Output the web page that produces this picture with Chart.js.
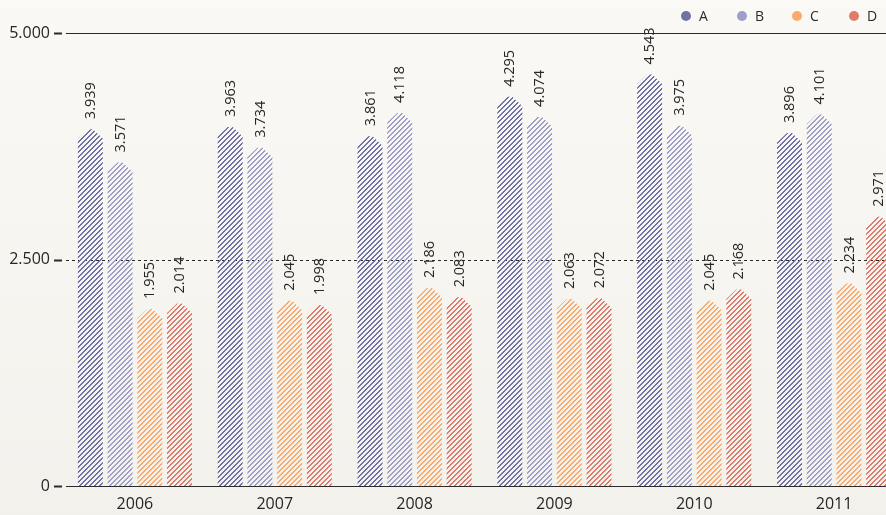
<!DOCTYPE html>
<html>
<head>
<meta charset="utf-8">
<script src="https://cdn.jsdelivr.net/npm/chart.js@4.4.1/dist/chart.umd.min.js"></script>
<style>
  html, body { margin: 0; padding: 0; width: 886px; height: 515px; overflow: hidden; }
  body { background: linear-gradient(#faf9f5, #f2f1ec); font-family: "Open Sans", sans-serif; color: #2b2b2b; }
  #wrap { position: relative; width: 904px; height: 515px; }
  #legend { position: absolute; top: 0; left: 0; width: 886px; height: 32px; }
  .item { position: absolute; top: 6px; font-size: 14px; line-height: 20px; }
  .dot { position: absolute; width: 10px; height: 10px; border-radius: 50%; }
</style>
</head>
<body>
<div id="wrap">
  <canvas id="chart" width="904" height="515"></canvas>
  <div id="legend"></div>
</div>
<script>
const categories = ['2006', '2007', '2008', '2009', '2010', '2011'];
const seriesNames = ['A', 'B', 'C', 'D'];
const seriesA = [3939, 3963, 3861, 4295, 4543, 3896];
const seriesB = [3571, 3734, 4118, 4074, 3975, 4101];
const seriesC = [1955, 2045, 2186, 2063, 2045, 2234];
const seriesD = [2014, 1998, 2083, 2072, 2168, 2971];
const yTicks = [0, 2500, 5000];

const hatchColors = ['#6f71a9', '#9d9fca', '#fca86a', '#e2786a'];
const dotColors = ['#7072a6', '#9d9ec9', '#fca96c', '#e07c6c'];
const legendPos = [686, 742, 797, 854];

function fmt(v) {
  return String(v).replace(/\B(?=(\d{3})+(?!\d))/g, '.');
}

// crisp "/" stripe tile, 5px period
function hatchPattern(ctx, color) {
  const n = 5;
  const tile = document.createElement('canvas');
  tile.width = n; tile.height = n;
  const t = tile.getContext('2d');
  t.fillStyle = color;
  for (let r = 0; r < n; r++) {
    const c = (n - 1 - r + n) % n;
    t.fillRect(c, r, 1, 1);
    t.fillRect((c + 1) % n, r, 1, 1);
  }
  return ctx.createPattern(tile, 'repeat');
}

// legend
const legend = document.getElementById('legend');
seriesNames.forEach((n, i) => {
  const d = document.createElement('div');
  d.className = 'dot';
  d.style.left = (legendPos[i] - 5) + 'px';
  d.style.top = '11px';
  d.style.background = dotColors[i];
  legend.appendChild(d);
  const t = document.createElement('div');
  t.className = 'item';
  t.style.left = (legendPos[i] + 13) + 'px';
  t.textContent = n;
  legend.appendChild(t);
});

// grid lines, tick marks, hatched pointed bars and rotated value labels
const hatchedBars = {
  id: 'hatchedBars',
  beforeDatasetsDraw(chart) {
    const { ctx, chartArea, scales: { y } } = chart;
    ctx.save();
    yTicks.forEach(v => {
      const py = Math.round(y.getPixelForValue(v)) + 0.5;
      ctx.beginPath();
      ctx.strokeStyle = '#2a2a2a';
      ctx.lineWidth = 1;
      ctx.setLineDash(v === 2500 ? [3, 3] : []);
      ctx.moveTo(chartArea.left + 1, py);
      ctx.lineTo(chartArea.right, py);
      ctx.stroke();
      ctx.setLineDash([]);
      ctx.beginPath();
      ctx.lineWidth = 2;
      ctx.moveTo(54, py);
      ctx.lineTo(62, py);
      ctx.stroke();
    });
    ctx.restore();
  },
  afterDatasetsDraw(chart) {
    const { ctx } = chart;
    chart.data.datasets.forEach((ds, di) => {
      const meta = chart.getDatasetMeta(di);
      const pat = hatchPattern(ctx, hatchColors[di]);
      meta.data.forEach((bar, i) => {
        const { x, y, base, width } = bar.getProps(['x', 'y', 'base', 'width'], true);
        const hw = width / 2;
        const rise = width * 0.38;
        const flat = width * 0.1;
        ctx.save();
        ctx.beginPath();
        ctx.moveTo(x - hw, base);
        ctx.lineTo(x - hw, y + rise);
        ctx.lineTo(x - flat, y);
        ctx.lineTo(x + flat, y);
        ctx.lineTo(x + hw, y + rise);
        ctx.lineTo(x + hw, base);
        ctx.closePath();
        ctx.fillStyle = pat;
        ctx.fill();
        ctx.restore();

        ctx.save();
        ctx.fillStyle = '#262626';
        ctx.font = '14.5px "Open Sans"';
        ctx.translate(x + 0.5, y - 10);
        ctx.rotate(-Math.PI / 2);
        ctx.textAlign = 'left';
        ctx.textBaseline = 'middle';
        ctx.fillText(fmt(ds.data[i]), 0, 0);
        ctx.restore();
      });
    });
  }
};

const values = [seriesA, seriesB, seriesC, seriesD];

function build() {
  new Chart(document.getElementById('chart'), {
    type: 'bar',
    data: {
      labels: categories,
      datasets: seriesNames.map((n, i) => ({
        label: n,
        data: values[i],
        backgroundColor: 'rgba(0,0,0,0)',
        borderWidth: 0,
        categoryPercentage: 0.85,
        barPercentage: 0.84
      }))
    },
    options: {
      responsive: false,
      animation: false,
      events: [],
      layout: { padding: { top: 33, right: 0, left: 0, bottom: 0 } },
      plugins: { legend: { display: false }, tooltip: { enabled: false } },
      scales: {
        x: {
          grid: { display: false, drawTicks: false },
          border: { display: false },
          ticks: { color: '#262626', font: { family: 'Open Sans', size: 16 }, padding: 9 },
          afterFit(s) { s.height = 29; }
        },
        y: {
          min: 0,
          max: 5000,
          grid: { display: false, drawTicks: false },
          border: { display: false },
          afterBuildTicks(s) { s.ticks = yTicks.map(v => ({ value: v })); },
          ticks: {
            color: '#262626',
            font: { family: 'Open Sans', size: 16 },
            padding: 15,
            callback: v => fmt(v)
          },
          afterFit(s) { s.width = 65; }
        }
      }
    },
    plugins: [hatchedBars]
  });
}

Promise.all([
  document.fonts.load('16px "Open Sans"'),
  document.fonts.load('14.5px "Open Sans"')
]).then(build, build);
</script>
</body>
</html>
